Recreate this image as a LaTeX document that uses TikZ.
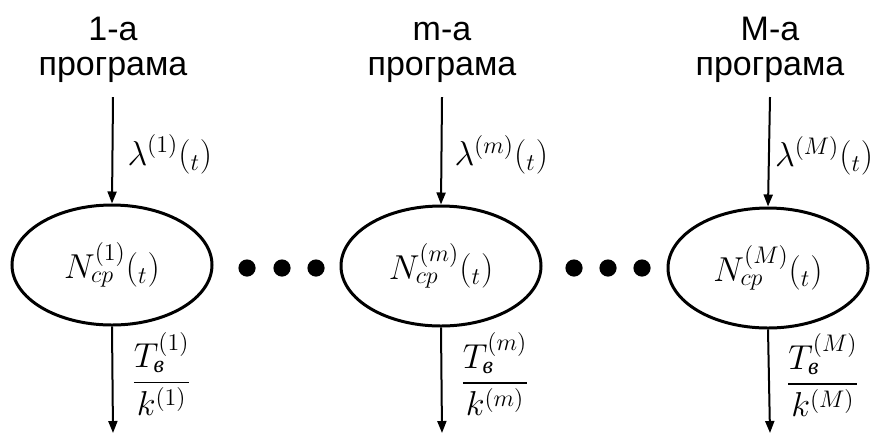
\documentclass[tikz,border=0pt]{standalone}
\usepackage{amsmath}
\usepackage{fontspec}
\newfontfamily\headfont{Liberation Sans}
\newfontfamily\cyrserif{Liberation Serif}
\usetikzlibrary{shapes.geometric,arrows.meta,positioning}
\newcommand{\subv}{\text{\cyrserif\itshape в}}

\begin{document}
\begin{tikzpicture}[
  x=0.5pt, y=-0.5pt,
  >={Triangle[length=6pt,width=4.5pt]},
  prog/.style={align=center, font=\headfont\fontsize{17}{17.5}\selectfont, inner ysep=7pt, anchor=south},
  queue/.style={ellipse, draw, line width=1.5pt, minimum width=100pt, minimum height=60pt,
                font=\LARGE, inner sep=0pt},
  lbl/.style={anchor=west, font=\LARGE, inner sep=0pt},
  rate/.style={lbl, font=\fontsize{16.5}{19}\selectfont, yshift=-2pt},
  flow/.style={->, line width=1pt},
]
\useasboundingbox (0,0) rectangle (872,436);

% --- programs ---
\node[prog] (p1) at (113,97) {1-а\\програма};
\node[prog] (pm) at (442,97) {m-а\\програма};
\node[prog] (pM) at (770,97) {M-а\\програма};

% --- queues ---
\node[queue] (n1) at (112,265) {$N^{(1)}_{cp}(_{t})$};
\node[queue] (nm) at (441,266) {$N^{(m)}_{cp}(_{t})$};
\node[queue] (nM) at (768,268) {$N^{(M)}_{cp}(_{t})$};

\coordinate (o1) at (113,433);
\coordinate (om) at (442,433);
\coordinate (oM) at (770,433);

% --- flows ---
\draw[flow] (p1.south) -- node[rate, xshift=7pt]{$\lambda^{(1)}(_{t})$} (n1.north);
\draw[flow] (pm.south) -- node[rate, xshift=6pt]{$\lambda^{(m)}(_{t})$} (nm.north);
\draw[flow] (pM.south) -- node[rate, xshift=2.5pt]{$\lambda^{(M)}(_{t})$} (nM.north);

\draw[flow] (n1.south) -- node[lbl, xshift=9pt, yshift=3pt]{$\dfrac{T^{(1)}_{\subv}}{k^{(1)}}$} (o1);
\draw[flow] (nm.south) -- node[lbl, xshift=9pt, yshift=3pt]{$\dfrac{T^{(m)}_{\subv}}{k^{(m)}}$} (om);
\draw[flow] (nM.south) -- node[lbl, xshift=8pt, yshift=3pt]{$\dfrac{T^{(M)}_{\subv}}{k^{(M)}}$} (oM);

% --- dots between programs ---
\fill (247,268) circle (4.3pt) (282,268) circle (4.3pt) (316,268) circle (4.3pt);
\fill (574,268) circle (4.3pt) (608,268) circle (4.3pt) (642,268) circle (4.3pt);

\end{tikzpicture}
\end{document}
